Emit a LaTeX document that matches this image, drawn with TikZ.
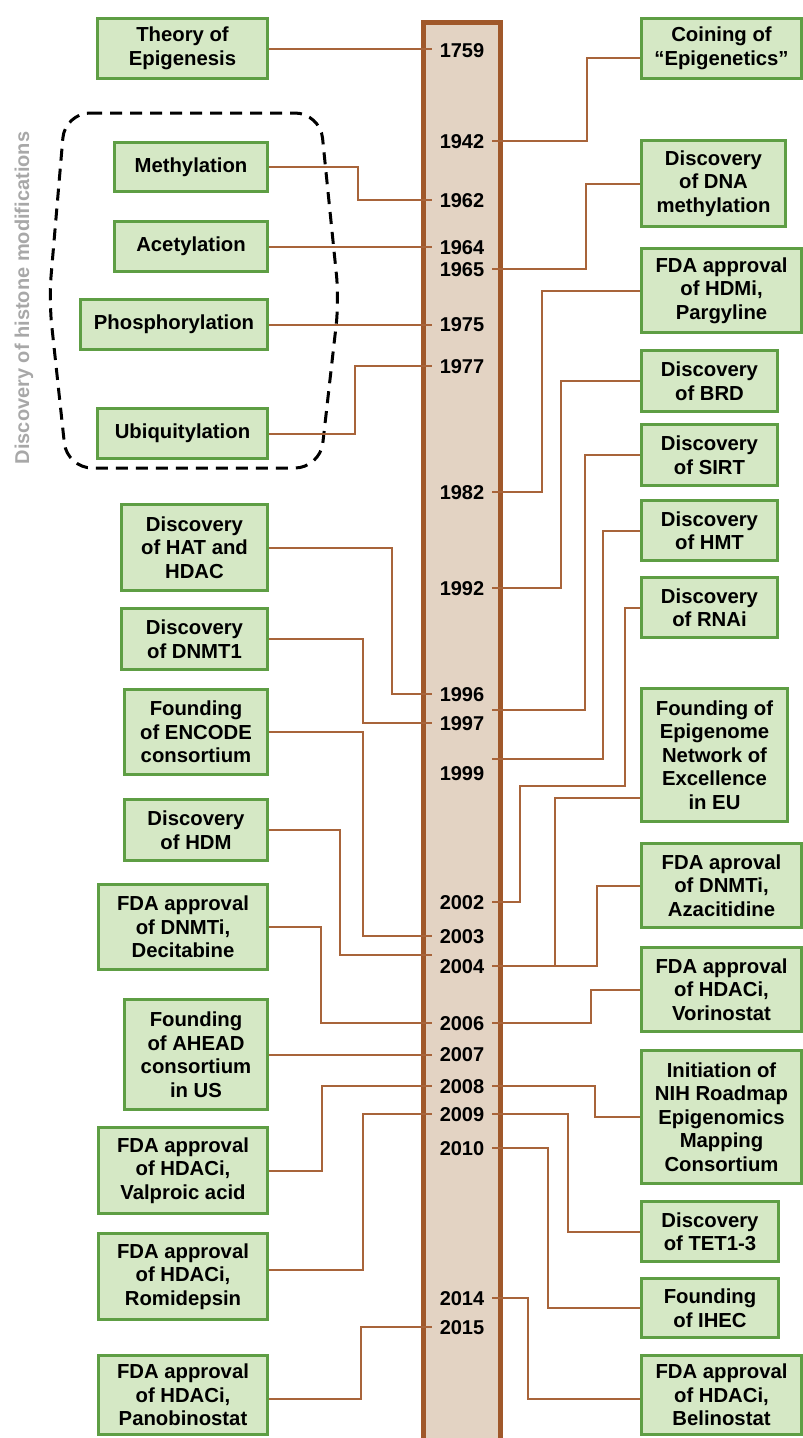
\documentclass[tikz,border=0pt]{standalone}
\usepackage{fontspec}
\setmainfont{Liberation Sans}
\usetikzlibrary{backgrounds}
\definecolor{boxfill}{HTML}{D5E8C5}
\definecolor{boxline}{HTML}{5E9E44}
\definecolor{connc}{HTML}{A8643A}
\definecolor{barline}{HTML}{A0582A}
\definecolor{barfill}{HTML}{E3D3C3}
\definecolor{graytxt}{HTML}{A8A8A8}
\begin{document}
\begin{tikzpicture}[x=1pt,y=-1pt,
  box/.style={draw=boxline, line width=3pt, fill=boxfill, align=center, inner sep=0pt,
    font=\fontsize{20.3}{23.5}\selectfont\bfseries},
  year/.style={minimum width=60pt, inner sep=0pt, text height=14.5pt, text depth=0pt,
    font=\fontsize{20}{24}\selectfont\bfseries},
  link/.style={draw=connc, line width=2pt},
  grouping/.style={draw=black, line width=3pt, dash pattern=on 12pt off 8pt, rounded corners=25pt}]
\useasboundingbox (0,0) rectangle (803,1438);

% year labels
\node[year] (y1759) at (462,50) {1759};
\node[year] (y1942) at (462,141) {1942};
\node[year] (y1962) at (462,200) {1962};
\node[year] (y1964) at (462,247) {1964};
\node[year] (y1965) at (462,269) {1965};
\node[year] (y1975) at (462,324) {1975};
\node[year] (y1977) at (462,366) {1977};
\node[year] (y1982) at (462,492) {1982};
\node[year] (y1992) at (462,588) {1992};
\node[year] (y1996) at (462,694) {1996};
\node[year] (y1997) at (462,723) {1997};
\node[year] (y1999) at (462,773) {1999};
\node[year] (y2002) at (462,902) {2002};
\node[year] (y2003) at (462,936) {2003};
\node[year] (y2004) at (462,966) {2004};
\node[year] (y2006) at (462,1023) {2006};
\node[year] (y2007) at (462,1054) {2007};
\node[year] (y2008) at (462,1086) {2008};
\node[year] (y2009) at (462,1114) {2009};
\node[year] (y2010) at (462,1148) {2010};
\node[year] (y2014) at (462,1298) {2014};
\node[year] (y2015) at (462,1327) {2015};
\coordinate (r710) at (492,710);
\coordinate (r759) at (492,759);
\coordinate (l2004) at (432,955);

% left boxes
\node[box, minimum width=170pt, minimum height=60pt] (theory) at (182.5,48.5) {Theory of\\Epigenesis};
\node[box, minimum width=153pt, minimum height=49pt] (meth) at (191,167) {Methylation};
\node[box, minimum width=153pt, minimum height=50pt] (acet) at (191,246.5) {Acetylation};
\node[box, minimum width=187pt, minimum height=50pt] (phos) at (174,324.5) {Phosphorylation};
\node[box, minimum width=170pt, minimum height=50pt] (ubiq) at (182.5,433.5) {Ubiquitylation};
\node[box, minimum width=146pt, minimum height=86pt] (hat) at (194.5,547.5) {Discovery\\of HAT and\\HDAC};
\node[box, minimum width=146pt, minimum height=61pt] (dnmt) at (194.5,639) {Discovery\\of DNMT1};
\node[box, minimum width=143pt, minimum height=85pt] (encode) at (196,732) {Founding\\of ENCODE\\consortium};
\node[box, minimum width=143pt, minimum height=61pt] (hdm) at (196,830) {Discovery\\of HDM};
\node[box, minimum width=169pt, minimum height=85pt] (deci) at (183,927) {FDA approval\\of DNMTi,\\Decitabine};
\node[box, minimum width=143pt, minimum height=110pt] (ahead) at (196,1054.5) {Founding\\of AHEAD\\consortium\\in US};
\node[box, minimum width=169pt, minimum height=86pt] (valp) at (183,1170.5) {FDA approval\\of HDACi,\\Valproic acid};
\node[box, minimum width=169pt, minimum height=86pt] (romi) at (183,1276.5) {FDA approval\\of HDACi,\\Romidepsin};
\node[box, minimum width=169pt, minimum height=79pt] (pano) at (183,1395) {FDA approval\\of HDACi,\\Panobinostat};

% right boxes
\node[box, minimum width=160pt, minimum height=60pt] (coin) at (721.5,48.5) {Coining of\\“Epigenetics”};
\node[box, minimum width=144pt, minimum height=86pt] (dnam) at (713.5,183.5) {Discovery\\of DNA\\methylation};
\node[box, minimum width=160pt, minimum height=84pt] (parg) at (721.5,290.5) {FDA approval\\of HDMi,\\Pargyline};
\node[box, minimum width=136pt, minimum height=61pt] (brd) at (709.5,381) {Discovery\\of BRD};
\node[box, minimum width=136pt, minimum height=61pt] (sirt) at (709.5,455) {Discovery\\of SIRT};
\node[box, minimum width=136pt, minimum height=60pt] (hmt) at (709.5,530.5) {Discovery\\of HMT};
\node[box, minimum width=136pt, minimum height=60pt] (rnai) at (709.5,607.5) {Discovery\\of RNAi};
\node[box, minimum width=146pt, minimum height=133pt] (epi) at (714.5,755) {Founding of\\Epigenome\\Network of\\Excellence\\in EU};
\node[box, minimum width=160pt, minimum height=84pt] (aza) at (721.5,885.5) {FDA aproval\\of DNMTi,\\Azacitidine};
\node[box, minimum width=160pt, minimum height=84pt] (vori) at (721.5,989.5) {FDA approval\\of HDACi,\\Vorinostat};
\node[box, minimum width=160pt, minimum height=133pt] (nih) at (721.5,1117) {Initiation of\\NIH Roadmap\\Epigenomics\\Mapping\\Consortium};
\node[box, minimum width=137pt, minimum height=60pt] (tet) at (710,1231.5) {Discovery\\of TET1-3};
\node[box, minimum width=137pt, minimum height=59pt] (ihec) at (710,1308) {Founding\\of IHEC};
\node[box, minimum width=160pt, minimum height=79pt] (beli) at (721.5,1395) {FDA approval\\of HDACi,\\Belinostat};

\node[font=\fontsize{20}{24}\selectfont\bfseries, text=graytxt, rotate=90, inner sep=0pt] (histlabel) at (24,298) {Discovery of histone modifications};

\begin{pgfonlayer}{background}
% timeline bar
\draw[line width=5pt, draw=barline, fill=barfill] (423.5,1450) -- (423.5,22.5) -- (500.8,22.5) -- (500.8,1450);
% dashed grouping
\draw[grouping] (65,113) -- (320,113) -- (339,300) -- (320,468) -- (67,468) -- (49,300) -- cycle;
% left connectors
\draw[link] (theory.east) -- (theory.east -| y1759.west);
\draw[link] (meth.east) -- ++(88.5,0) |- (y1962.west);
\draw[link] (acet.east) -- (acet.east -| y1964.west);
\draw[link] (phos.east) -- (phos.east -| y1975.west);
\draw[link] (ubiq.east) -- ++(85.5,0) |- (y1977.west);
\draw[link] (hat.east) -- ++(122.5,0) |- (y1996.west);
\draw[link] (dnmt.east) -- ++(93.5,0) |- (y1997.west);
\draw[link] (encode.east) -- ++(93.5,0) |- (y2003.west);
\draw[link] (hdm.east) -- ++(70.5,0) |- (l2004);
\draw[link] (deci.east) -- ++(51.5,0) |- (y2006.west);
\draw[link] (ahead.east) -- (ahead.east -| y2007.west);
\draw[link] (valp.east) -- ++(52.5,0) |- (y2008.west);
\draw[link] ([yshift=6.5pt]romi.east) -- ++(93.5,0) |- (y2009.west);
\draw[link] ([yshift=-4pt]pano.east) -- ++(91.5,0) |- (y2015.west);
% right connectors
\draw[link] ([yshift=-9.5pt]coin.west) -- ++(-53.5,0) |- (y1942.east);
\draw[link] (dnam.west) -- ++(-54.5,0) |- (y1965.east);
\draw[link] (parg.west) -- ++(-98.5,0) |- (y1982.east);
\draw[link] (brd.west) -- ++(-79.5,0) |- (y1992.east);
\draw[link] (sirt.west) -- ++(-55.5,0) |- (r710);
\draw[link] (hmt.west) -- ++(-37.5,0) |- (r759);
\draw[link] (rnai.west) -- ++(-15.5,0) |- ++(-105,178) |- (y2002.east);
\draw[link] ([yshift=-43pt]epi.west) -- ++(-85.5,0) |- (y2004.east);
\draw[link] (aza.west) -- ++(-43.5,0) |- (y2004.east);
\draw[link] (vori.west) -- ++(-49.5,0) |- (y2006.east);
\draw[link] (nih.west) -- ++(-45.5,0) |- (y2008.east);
\draw[link] (tet.west) -- ++(-72.5,0) |- (y2009.east);
\draw[link] (ihec.west) -- ++(-92.5,0) |- (y2010.east);
\draw[link] ([yshift=-4pt]beli.west) -- ++(-112.5,0) |- (y2014.east);
\end{pgfonlayer}
\end{tikzpicture}
\end{document}
